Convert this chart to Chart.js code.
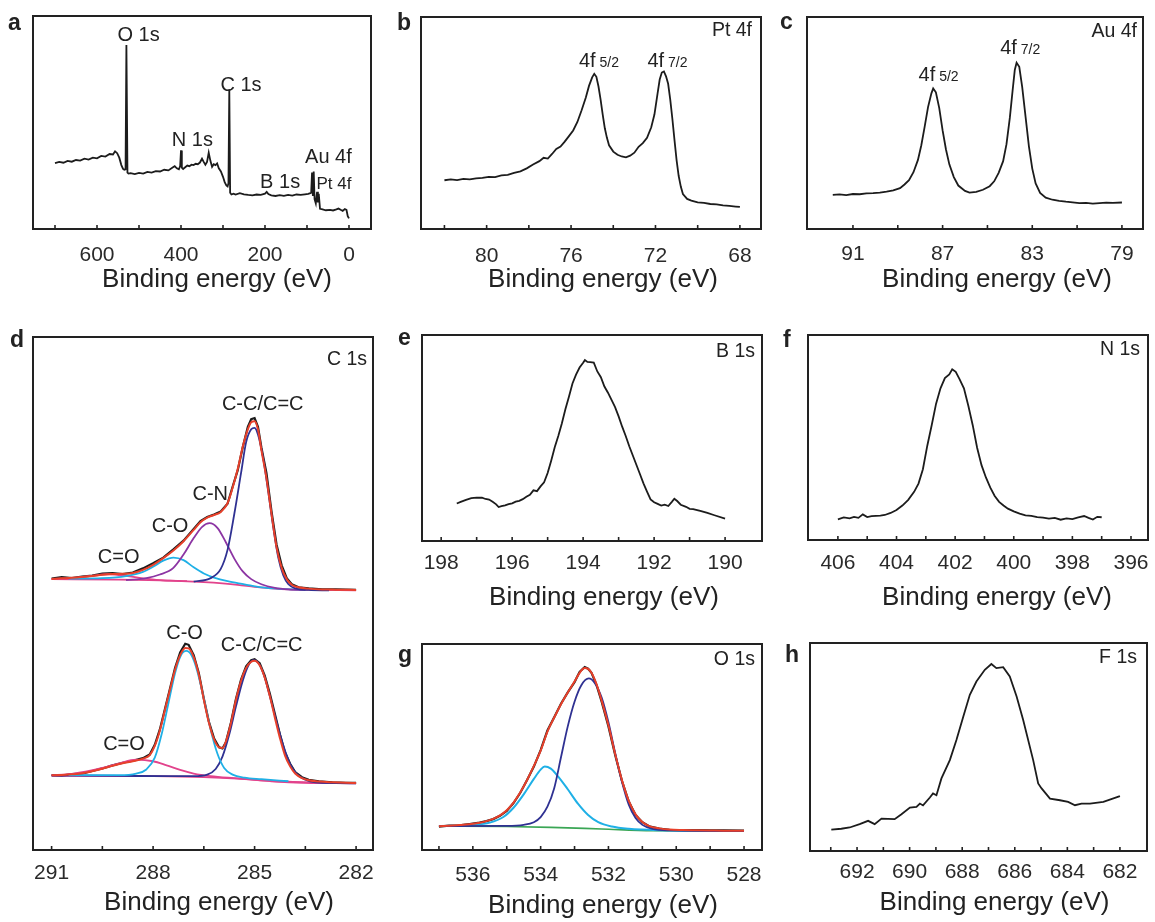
<!DOCTYPE html>
<html>
<head>
<meta charset="utf-8">
<script src="https://cdn.jsdelivr.net/npm/chart.js@4.4.1/dist/chart.umd.min.js"></script>
<style>
html,body{margin:0;padding:0;background:#fff;}
#wrap{position:relative;width:1155px;height:922px;overflow:hidden;background:#fff;}
#wrap canvas{position:absolute;}
</style>
</head>
<body>
<div id="wrap"></div>
<script>
// ---------------- DATA ----------------
// (a) survey
const surveyEnergy = [700,690,680,670,660,650,640,630,620,610,600,590,580,570,562,557,552,547,542,538,535,532,530,527.5,525,520,510,500,490,480,470,460,450,440,430,420,415,410,405,402,400,398,395,390,385,380,375,370,365,360,355,350,346,342,338,334,330,326,322,318,314,310,305,300,296,292,289,287,285,283,280,275,270,260,250,240,230,220,210,200,196,192,185,175,165,155,145,135,125,115,105,97,92,90,88,86,84,82,79,76,74,72,69,65,55,45,38,30,25,20,15,10,6,3,0];
const surveyIntensity = [30.9,31.5,31.1,32.0,31.6,32.4,32.1,33.0,32.6,33.5,33.2,34.3,34.0,35.2,35.0,36.5,35.6,33.5,30.0,28.2,27.8,28.0,86.4,26.5,26.0,26.2,25.8,26.3,26.0,26.8,26.5,27.2,27.0,27.8,27.5,28.9,29.5,28.5,28.0,29.5,36.9,28.8,28.2,29.0,29.8,29.5,30.2,30.0,30.6,30.4,31.2,33.0,31.5,30.2,31.5,35.8,32.0,29.2,30.4,30.0,30.8,28.5,27.0,24.5,22.0,20.5,20.0,21.5,65.6,17.0,16.2,16.6,16.2,16.8,16.3,16.0,15.8,16.2,16.0,16.6,17.4,16.4,15.8,15.5,15.9,15.6,16.0,15.7,16.2,16.0,16.3,16.5,16.8,17.0,26.5,15.5,27.0,14.0,12.0,17.5,12.5,16.5,9.5,9.3,8.8,9.0,8.7,9.2,9.6,9.0,8.5,9.4,9.0,6.0,5.0];
const surveyTicks = [700,600,500,400,300,200,100,0];
const surveyTickLabels = [600,400,200,0];

// (b) Pt 4f
const pt4fEnergy = [82.0,81.7,81.4,81.1,80.8,80.5,80.2,79.9,79.6,79.3,79.0,78.7,78.4,78.1,77.8,77.5,77.3,77.1,76.9,76.7,76.5,76.3,76.1,75.9,75.7,75.5,75.3,75.15,75.0,74.9,74.8,74.7,74.6,74.5,74.4,74.3,74.2,74.0,73.8,73.6,73.4,73.2,73.0,72.8,72.6,72.4,72.2,72.05,71.9,71.8,71.7,71.6,71.5,71.4,71.3,71.2,71.1,71.0,70.9,70.8,70.7,70.5,70.3,70.0,69.7,69.4,69.1,68.8,68.5,68.2,68.0];
const pt4fIntensity = [23.0,23.4,23.1,23.6,23.4,23.9,24.1,24.6,24.5,25.3,25.5,26.5,27.2,28.6,30.4,32.0,33.6,33.2,35.4,37.8,38.9,41.2,43.8,46.5,50.5,56.0,62.0,67.5,71.5,73.2,71.8,67.2,61.0,54.0,47.5,43.0,39.5,36.5,35.0,34.2,33.8,34.6,36.0,38.8,40.5,43.0,48.0,54.0,64.0,70.5,73.8,74.3,72.0,68.5,61.0,52.0,42.0,32.5,25.0,20.0,16.5,14.2,13.4,12.6,12.3,11.8,11.6,11.1,10.9,10.6,10.4];
const pt4fTicks = [82,80,78,76,74,72,70,68];
const pt4fTickLabels = [80,76,72,68];

// (c) Au 4f
const au4fEnergy = [91.9,91.6,91.3,91.0,90.7,90.4,90.1,89.8,89.5,89.2,88.9,88.7,88.5,88.3,88.1,87.95,87.8,87.65,87.5,87.42,87.3,87.15,87.0,86.85,86.7,86.5,86.3,86.0,85.8,85.5,85.2,84.9,84.7,84.5,84.3,84.15,84.0,83.88,83.78,83.7,83.58,83.45,83.3,83.15,83.0,82.85,82.65,82.4,82.1,81.8,81.5,81.2,80.9,80.6,80.3,80.0,79.7,79.4,79.0];
const au4fIntensity = [16.1,16.3,16.0,16.5,16.4,16.8,16.9,17.2,17.6,18.2,19.3,21.0,23.0,26.8,32.6,39.5,48.3,57.5,64.0,66.3,64.5,57.0,46.5,37.5,30.5,24.5,20.5,18.0,17.2,17.5,18.5,20.2,22.5,26.5,32.0,40.0,52.5,65.0,75.0,78.4,76.5,67.0,53.0,39.0,28.5,21.5,17.0,14.8,13.8,13.3,12.9,12.6,12.2,12.3,12.0,12.2,12.4,12.3,12.5];
const au4fTicks = [91,89,87,85,83,81,79];
const au4fTickLabels = [91,87,83,79];

// (d) C 1s, upper spectrum
const c1sEnergyA = [291.0,290.7,290.4,290.1,289.8,289.5,289.2,288.9,288.6,288.3,288.0,287.7,287.4,287.1,286.8,286.6,286.4,286.2,286.0,285.8,285.65,285.5,285.35,285.2,285.1,285.0,284.9,284.8,284.65,284.5,284.35,284.2,284.05,283.9,283.7,283.4,283.0,282.6,282.0];
const c1sRawA = [52.9,53.2,53.0,53.3,53.5,53.9,54.0,53.8,54.1,54.9,55.9,57.0,58.6,60.3,62.6,64.1,64.9,65.4,66.0,67.5,70.8,74.0,78.5,82.5,84.0,84.2,82.5,78.5,73.5,66.0,59.5,55.5,53.0,51.8,51.2,51.0,50.8,50.8,50.7];
const c1sFitA = [52.85,52.95,53.05,53.2,53.4,53.65,53.8,53.85,54.0,54.6,55.6,56.9,58.4,60.2,62.4,63.9,64.8,65.3,65.9,67.6,70.6,74.2,78.6,82.0,83.4,83.6,82.0,78.0,72.5,65.5,59.0,55.0,52.8,51.7,51.2,50.95,50.8,50.75,50.7];
const c1sBgEnergyA = [291,289,287.5,286.5,285.5,285,284.5,284,283,282];
const c1sBgA = [52.8,52.7,52.5,52.2,51.7,51.3,51.0,50.8,50.7,50.6];
const c1sCdoEnergyA = [291,290.3,289.8,289.3,288.8,288.3,287.8,287.0];
const c1sCdoA = [52.85,53.05,53.45,53.75,53.45,52.95,52.6,52.4];
const c1sCoEnergyA = [290.5,289.5,288.8,288.3,288.0,287.7,287.4,287.1,286.8,286.5,286.2,285.8,285.3,284.8,284.2,283.5];
const c1sCoA = [52.9,53.0,53.4,54.2,55.2,56.4,57.0,56.5,55.1,53.9,53.1,52.4,51.8,51.2,50.9,50.7];
const c1sCnEnergyA = [288.8,288.2,287.8,287.4,287.1,286.8,286.55,286.33,286.1,285.85,285.6,285.35,285.1,284.8,284.4,284.0,283.5];
const c1sCnA = [52.6,53.0,53.7,55.0,57.6,60.8,63.0,63.7,62.8,60.0,56.8,54.3,52.8,51.8,51.1,50.8,50.7];
const c1sCcEnergyA = [286.8,286.3,286.0,285.8,285.6,285.4,285.25,285.1,285.0,284.9,284.75,284.6,284.45,284.3,284.15,284.0,283.8,283.4,282.8];
const c1sCcA = [52.3,53.0,54.8,58.5,65.5,73.5,79.5,82.0,82.3,81.0,76.5,70.0,63.0,57.0,53.5,51.8,51.0,50.7,50.6];
// (d) C 1s, lower spectrum
const c1sEnergyB = [291.0,290.7,290.4,290.1,289.8,289.5,289.2,288.9,288.6,288.3,288.1,287.95,287.8,287.65,287.5,287.35,287.2,287.05,286.95,286.8,286.65,286.5,286.35,286.2,286.05,285.95,285.85,285.7,285.55,285.4,285.25,285.1,285.0,284.85,284.7,284.55,284.4,284.25,284.1,283.95,283.8,283.6,283.4,283.1,282.7,282.3,282.0];
const c1sRawB = [14.6,14.5,14.8,14.9,15.4,15.9,16.5,17.0,17.4,17.9,18.6,20.5,23.5,27.5,31.5,35.5,38.5,40.2,40.0,38.0,34.5,29.5,25.0,21.8,20.0,19.8,21.0,24.8,29.5,33.2,35.8,37.0,37.2,36.4,34.0,30.5,26.5,22.5,19.0,16.8,15.2,14.2,13.7,13.4,13.2,13.1,13.1];
const c1sFitB = [14.55,14.6,14.75,14.95,15.35,15.85,16.4,16.9,17.3,17.8,18.5,20.3,23.3,27.3,31.3,35.2,38.0,39.4,39.3,37.6,34.2,29.3,24.8,21.6,20.0,19.9,21.1,24.7,29.3,33.0,35.5,36.7,36.9,36.0,33.6,30.0,25.8,21.8,18.4,16.3,14.9,14.0,13.6,13.35,13.2,13.1,13.05];
const c1sBgEnergyB = [291,288,286.5,285.5,284.5,283.5,282];
const c1sBgB = [14.5,14.4,14.2,13.9,13.4,13.1,13.0];
const c1sCdoEnergyB = [291,290.5,290.0,289.5,289.0,288.5,288.0,287.6,287.2,286.8,286.3,285.6,284.8,284.0,283.0];
const c1sCdoB = [14.6,14.8,15.3,16.0,16.9,17.6,17.3,16.5,15.6,14.9,14.4,14.0,13.6,13.3,13.1];
const c1sCoEnergyB = [290.5,289.0,288.5,288.2,287.95,287.75,287.55,287.35,287.18,287.02,286.86,286.7,286.5,286.3,286.1,285.9,285.65,285.3,284.8,284.0];
const c1sCoB = [14.6,14.6,14.9,15.7,18.0,22.5,28.5,34.5,37.9,38.8,37.9,35.0,29.5,23.5,18.8,16.0,14.7,14.1,13.8,13.4];
const c1sCcEnergyB = [291,289,287.5,286.8,286.4,286.15,285.95,285.75,285.55,285.35,285.18,285.03,284.88,284.72,284.55,284.35,284.15,283.95,283.75,283.5,283.2,282.6,282.0];
const c1sCcB = [14.5,14.45,14.4,14.4,14.7,15.8,18.2,22.5,28.0,33.0,36.0,37.0,36.4,34.0,30.0,25.0,20.3,16.8,14.8,13.7,13.2,13.05,13.0];
const c1sTicks = [291,289.5,288,286.5,285,283.5,282];
const c1sTickLabels = [291,288,285,282];

// (e) B 1s
const b1sEnergy = [197.56,197.45,197.3,197.15,197.0,196.85,196.75,196.65,196.55,196.45,196.38,196.3,196.2,196.1,196.0,195.9,195.8,195.7,195.6,195.5,195.4,195.3,195.2,195.1,195.0,194.9,194.8,194.7,194.6,194.5,194.4,194.3,194.2,194.1,194.0,193.95,193.88,193.8,193.7,193.6,193.5,193.4,193.3,193.2,193.1,193.0,192.9,192.8,192.7,192.6,192.5,192.4,192.3,192.2,192.1,192.0,191.9,191.8,191.7,191.6,191.5,191.43,191.35,191.25,191.1,191.0,190.9,190.7,190.5,190.3,190.0];
const b1sIntensity = [18.2,19.0,20.0,20.8,21.1,21.0,20.4,20.1,19.0,17.8,16.5,16.9,17.3,17.9,18.3,19.1,19.5,20.3,21.5,22.4,24.6,24.2,26.5,28.5,33.0,39.0,45.5,51.0,57.0,64.0,70.0,76.5,80.8,84.2,86.5,87.8,86.9,86.8,86.6,82.3,79.5,75.0,72.0,68.5,65.0,60.5,55.5,51.0,46.0,41.5,37.0,32.5,28.0,24.0,20.2,18.8,18.0,17.2,17.6,17.0,19.0,20.5,19.4,17.6,16.6,15.6,15.5,14.6,13.6,12.5,10.9];
const b1sTicks = [198,197,196,195,194,193,192,191,190];
const b1sTickLabels = [198,196,194,192,190];

// (f) N 1s
const n1sEnergy = [406.0,405.8,405.6,405.45,405.3,405.15,405.0,404.85,404.7,404.55,404.4,404.2,404.0,403.8,403.6,403.4,403.25,403.1,402.95,402.8,402.65,402.5,402.35,402.2,402.1,401.98,401.85,401.7,401.55,401.4,401.25,401.1,400.95,400.8,400.65,400.5,400.35,400.2,400.0,399.8,399.6,399.4,399.2,399.0,398.8,398.6,398.4,398.2,398.0,397.8,397.6,397.45,397.3,397.15,397.0];
const n1sIntensity = [10.1,11.0,10.6,11.3,10.8,12.5,11.2,11.6,11.8,11.9,12.2,13.2,14.6,16.8,19.6,23.5,27.5,34.5,46.0,56.0,66.5,74.0,79.0,80.8,83.3,82.0,78.5,74.0,65.5,56.0,45.0,36.5,30.5,25.5,21.5,18.6,16.8,15.3,14.0,12.9,12.0,11.8,11.2,10.9,10.4,10.8,9.9,10.5,10.2,11.0,11.7,10.8,10.0,11.3,11.1];
const n1sTicks = [406,405,404,403,402,401,400,399,398,397,396];
const n1sTickLabels = [406,404,402,400,398,396];

// (g) O 1s
const o1sEnergy = [537.0,536.7,536.4,536.1,535.8,535.6,535.4,535.2,535.0,534.8,534.6,534.4,534.2,534.0,533.8,533.6,533.4,533.2,533.0,532.85,532.7,532.6,532.5,532.35,532.2,532.0,531.8,531.6,531.4,531.2,531.0,530.8,530.5,530.2,529.8,529.4,529.0,528.6,528.0];
const o1sRaw = [11.3,11.8,12.0,12.6,13.3,14.0,15.0,16.6,19.0,22.8,27.8,34.0,40.5,48.5,58.0,64.5,71.0,76.5,81.5,86.5,88.8,88.0,86.0,80.0,72.0,60.0,46.0,33.5,23.5,17.0,13.5,11.5,10.4,9.8,9.7,9.6,9.5,9.5,9.4];
const o1sFit = [11.5,11.8,12.1,12.5,13.2,14.0,15.1,16.8,19.3,23.0,28.0,34.0,40.8,48.2,57.5,64.3,70.8,76.5,81.8,86.0,88.3,87.9,86.0,80.4,72.5,60.5,46.5,33.8,23.8,17.3,13.6,11.6,10.5,9.9,9.7,9.6,9.5,9.4,9.3];
const o1sHighEnergy = [537,536,535.5,535.1,534.8,534.5,534.2,534.0,533.88,533.7,533.5,533.2,532.9,532.6,532.3,531.9,531.4,530.5,528];
const o1sHigh = [11.7,12.2,13.3,16.0,20.5,27.0,34.5,39.0,40.5,39.5,36.0,29.5,22.5,17.0,13.5,11.4,10.3,9.6,9.2];
const o1sLowEnergy = [537,535,534.5,534.2,534.0,533.8,533.6,533.4,533.2,533.0,532.8,532.58,532.4,532.2,532.0,531.8,531.6,531.4,531.2,531.0,530.7,530.2,528];
const o1sLow = [11.6,11.7,12.2,13.5,16.0,21.0,30.0,45.0,60.0,72.0,80.0,83.3,81.0,74.0,62.0,47.0,33.0,22.0,15.5,12.2,10.2,9.5,9.2];
const o1sBgEnergy = [537,535,533.7,532.2,530.7,528];
const o1sBg = [11.65,11.4,11.0,10.2,9.4,9.2];
const o1sTicks = [537,536,535,534,533,532,531,530,529,528];
const o1sTickLabels = [536,534,532,530,528];

// (h) F 1s
const f1sEnergy = [692.98,692.6,692.28,691.9,691.58,691.33,691.07,690.57,690.31,689.99,689.74,689.61,689.49,689.23,689.11,688.98,688.79,688.47,688.22,687.96,687.71,687.46,687.14,686.89,686.7,686.44,686.19,685.93,685.68,685.3,685.11,684.98,684.66,684.28,683.97,683.71,683.46,683.14,682.63,682.0];
const f1sIntensity = [10.3,10.7,11.3,12.9,14.5,12.9,15.6,15.3,17.7,20.9,21.2,22.8,21.9,25.7,27.7,26.8,34.9,43.7,53.4,64.6,75.1,81.5,87.1,89.9,87.9,88.4,83.9,74.3,63.0,43.7,32.5,30.1,25.2,24.4,23.6,22.0,22.8,22.8,23.6,26.4];
const f1sTicks = [693,692,691,690,689,688,687,686,685,684,683,682];
const f1sTickLabels = [692,690,688,686,684,682];

// ---------------- RENDERING ----------------
const FONT = '"Liberation Sans", Arial, Helvetica, sans-serif';
const INK = '#222222';
const C = {black:'#1c1c1c', red:'#e8402a', cyan:'#1fb0e6', purple:'#8c35a3', navy:'#2f3192', pink:'#e2438c', green:'#3aa655'};

function xy(xs, ys) {
  const n = Math.min(xs.length, ys.length), out = [];
  for (let i = 0; i < n; i++) out.push({x: xs[i], y: ys[i]});
  return out;
}
function line(xs, ys, color, width, smooth) {
  return {data: xy(xs, ys), borderColor: color, borderWidth: width, showLine: true, pointRadius: 0,
          fill: false, tension: smooth ? 0.4 : 0, cubicInterpolationMode: smooth ? 'monotone' : 'default'};
}

const panels = [
  {id:'a', box:[0,0,385,310], frame:[33,16,371,229], min:-52.4, max:752.4, ticks:surveyTicks, labels:surveyTickLabels,
   pad:5.4, titleDx:15, titleDy:58, letterPos:[8,30], corner:null,
   notes:[{t:'O 1s',x:501,y:88.3},{t:'C 1s',x:257,y:64.8},{t:'N 1s',x:373,y:39.0},{t:'Au 4f',x:49,y:31.0},{t:'B 1s',x:164,y:19.2},{t:'Pt 4f',x:36,y:18.8,size:17}],
   sets:[line(surveyEnergy, surveyIntensity, C.black, 1.8)]},
  {id:'b', box:[385,0,385,310], frame:[421,17,761,229], min:67.0, max:83.11, ticks:pt4fTicks, labels:pt4fTickLabels,
   pad:6.4, titleDx:12, titleDy:58, letterPos:[12,30], corner:'Pt 4f', cornerOff:[9,19],
   notes:[{t:'4f',s:'5/2',x:74.68,y:76.6},{t:'4f',s:'7/2',x:71.43,y:76.6}],
   sets:[line(pt4fEnergy, pt4fIntensity, C.black, 1.8)]},
  {id:'c', box:[770,0,385,310], frame:[807,17,1143,229], min:78.06, max:93.05, ticks:au4fTicks, labels:au4fTickLabels,
   pad:4.4, titleDx:22, titleDy:58, letterPos:[10,29], corner:'Au 4f', cornerOff:[6,20],
   notes:[{t:'4f',s:'5/2',x:87.18,y:69.8},{t:'4f',s:'7/2',x:83.54,y:82.5}],
   sets:[line(au4fEnergy, au4fIntensity, C.black, 1.8)]},
  {id:'d', box:[0,320,385,602], frame:[33,337,373,850], min:281.5, max:291.55, ticks:c1sTicks, labels:c1sTickLabels,
   pad:2.9, titleDx:16, titleDy:60, letterPos:[10,27], corner:'C 1s', cornerOff:[6,28],
   notes:[{t:'C-C/C=C',x:284.76,y:85.8},{t:'C-N',x:286.31,y:68.2},{t:'C-O',x:287.5,y:61.9},{t:'C=O',x:289.02,y:55.9},
          {t:'C-O',x:287.07,y:41.1},{t:'C-C/C=C',x:284.79,y:38.7},{t:'C=O',x:288.86,y:19.5}],
   sets:[
     line(c1sEnergyA, c1sFitA, C.red, 2, true),
     line(c1sCcEnergyA, c1sCcA, C.navy, 1.8, true),
     line(c1sCnEnergyA, c1sCnA, C.purple, 1.8, true),
     line(c1sCoEnergyA, c1sCoA, C.cyan, 1.8, true),
     line(c1sCdoEnergyA, c1sCdoA, C.pink, 1.8, true),
     line(c1sBgEnergyA, c1sBgA, C.pink, 1.8, true),
     line(c1sEnergyA, c1sRawA, C.black, 2.2),
     line(c1sEnergyB, c1sFitB, C.red, 2, true),
     line(c1sCoEnergyB, c1sCoB, C.cyan, 1.8, true),
     line(c1sCcEnergyB, c1sCcB, C.navy, 1.8, true),
     line(c1sCdoEnergyB, c1sCdoB, C.pink, 1.8, true),
     line(c1sBgEnergyB, c1sBgB, C.pink, 1.8, true),
     line(c1sEnergyB, c1sRawB, C.black, 2.2)
   ]},
  {id:'e', box:[385,320,385,300], frame:[422,335,762,541], min:188.96, max:198.54, ticks:b1sTicks, labels:b1sTickLabels,
   pad:1.9, titleDx:12, titleDy:64, letterPos:[13,25], corner:'B 1s', cornerOff:[7,22],
   notes:[], sets:[line(b1sEnergy, b1sIntensity, C.black, 1.8)]},
  {id:'f', box:[770,320,385,300], frame:[808,335,1148,540], min:395.42, max:407.02, ticks:n1sTicks, labels:n1sTickLabels,
   pad:2.6, titleDx:19, titleDy:65, letterPos:[13,27], corner:'N 1s', cornerOff:[8,20],
   notes:[], sets:[line(n1sEnergy, n1sIntensity, C.black, 1.8)]},
  {id:'g', box:[385,620,385,302], frame:[422,644,762,850], min:527.47, max:537.5, ticks:o1sTicks, labels:o1sTickLabels,
   pad:4.9, titleDx:11, titleDy:63, letterPos:[13,42], corner:'O 1s', cornerOff:[7,21],
   notes:[],
   sets:[
     line(o1sEnergy, o1sFit, C.red, 2, true),
     line(o1sLowEnergy, o1sLow, C.navy, 1.8, true),
     line(o1sHighEnergy, o1sHigh, C.cyan, 2, true),
     line(o1sBgEnergy, o1sBg, C.green, 1.6, true),
     line(o1sEnergy, o1sRaw, C.black, 2.2)
   ]},
  {id:'h', box:[770,620,385,302], frame:[810,643,1147,851], min:680.97, max:693.79, ticks:f1sTicks, labels:f1sTickLabels,
   pad:0.4, titleDx:16, titleDy:59, letterPos:[15,42], corner:'F 1s', cornerOff:[10,20],
   notes:[], sets:[line(f1sEnergy, f1sIntensity, C.black, 1.8)]}
];

function decor(p) {
  return {
    id: 'decor_' + p.id,
    afterDraw(chart) {
      const ctx = chart.ctx, a = chart.chartArea, xs = chart.scales.x, ys = chart.scales.y;
      ctx.save();
      ctx.strokeStyle = INK; ctx.fillStyle = INK;
      // inward tick marks
      ctx.lineWidth = 1.6;
      xs.ticks.forEach(t => {
        const px = xs.getPixelForValue(t.value);
        ctx.beginPath(); ctx.moveTo(px, a.bottom); ctx.lineTo(px, a.bottom - 4); ctx.stroke();
      });
      // frame
      ctx.lineWidth = 2;
      ctx.strokeRect(a.left, a.top, a.right - a.left, a.bottom - a.top);
      // axis title
      ctx.textBaseline = 'alphabetic';
      ctx.textAlign = 'center';
      ctx.font = '26px ' + FONT;
      ctx.fillText('Binding energy (eV)', (a.left + a.right) / 2 + p.titleDx, a.bottom + p.titleDy);
      // panel letter
      ctx.textAlign = 'left';
      ctx.font = 'bold 23px ' + FONT;
      ctx.fillText(p.id, p.letterPos[0], p.letterPos[1]);
      // corner label
      if (p.corner) {
        ctx.textAlign = 'right';
        ctx.font = '19.5px ' + FONT;
        ctx.fillText(p.corner, a.right - p.cornerOff[0], a.top + p.cornerOff[1]);
      }
      // peak annotations
      p.notes.forEach(n => {
        const px = xs.getPixelForValue(n.x), py = ys.getPixelForValue(n.y);
        const big = (n.size || 20) + 'px ' + FONT, small = '14px ' + FONT;
        ctx.font = big; const w1 = ctx.measureText(n.t).width;
        let w2 = 0;
        if (n.s) { ctx.font = small; w2 = ctx.measureText(' ' + n.s).width; }
        const x0 = px - (w1 + w2) / 2;
        ctx.textAlign = 'left';
        ctx.font = big; ctx.fillText(n.t, x0, py);
        if (n.s) { ctx.font = small; ctx.fillText(' ' + n.s, x0 + w1, py); }
      });
      ctx.restore();
    }
  };
}

const wrap = document.getElementById('wrap');
panels.forEach(p => {
  const [bl, bt, bw, bh] = p.box;
  const [L, T, R, B] = p.frame;
  const cv = document.createElement('canvas');
  cv.width = bw; cv.height = bh;
  cv.style.left = bl + 'px'; cv.style.top = bt + 'px';
  cv.style.width = bw + 'px'; cv.style.height = bh + 'px';
  wrap.appendChild(cv);
  new Chart(cv.getContext('2d'), {
    type: 'scatter',
    data: {datasets: p.sets},
    options: {
      responsive: false, animation: false, devicePixelRatio: 1, events: [],
      layout: {padding: {left: L - bl, top: T - bt, right: bl + bw - R, bottom: 0}},
      plugins: {legend: {display: false}, tooltip: {enabled: false}},
      scales: {
        x: {
          type: 'linear', reverse: true, min: p.min, max: p.max,
          afterBuildTicks: s => { s.ticks = p.ticks.map(v => ({value: v})); },
          afterFit: s => { s.height = bt + bh - B; },
          grid: {display: false}, border: {display: false},
          title: {display: false},
          ticks: {autoSkip: false, maxRotation: 0, minRotation: 0, padding: p.pad, color: '#2a2a2a',
                  font: {family: FONT, size: 21},
                  callback: v => p.labels.indexOf(v) >= 0 ? String(v) : ''}
        },
        y: {type: 'linear', display: false, min: 0, max: 100}
      }
    },
    plugins: [decor(p)]
  });
});
</script>
</body>
</html>
